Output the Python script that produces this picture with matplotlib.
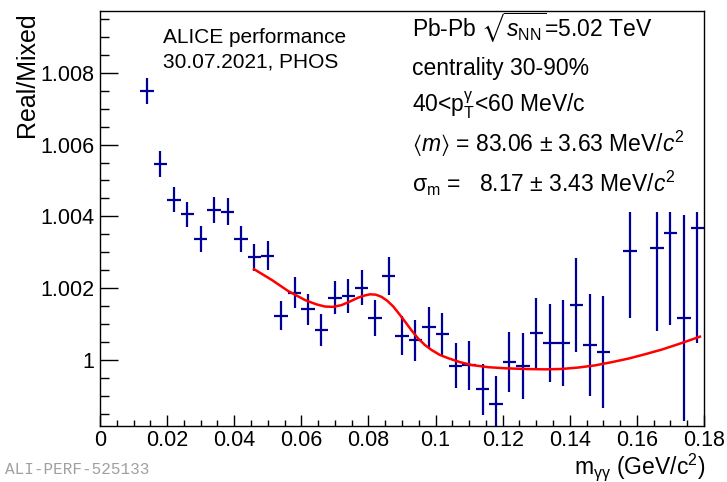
import matplotlib
matplotlib.use("Agg")
import matplotlib.pyplot as plt
from matplotlib.patches import Rectangle
from matplotlib.ticker import MultipleLocator, FuncFormatter

COLOR_DATA = "#000099"
COLOR_FIT = "#ff0000"
FONT = "Liberation Sans"

# Real/Mixed ratio, bins of 4 MeV (two bins missing)
mass = [0.014, 0.018, 0.022, 0.026, 0.030, 0.034, 0.038, 0.042, 0.046, 0.050,
        0.054, 0.058, 0.062, 0.066, 0.070, 0.074, 0.078, 0.082, 0.086, 0.090,
        0.094, 0.098, 0.102, 0.106, 0.110, 0.114, 0.118, 0.122, 0.126, 0.130,
        0.134, 0.138, 0.142, 0.146, 0.150, 0.158, 0.166, 0.170, 0.174, 0.178]
ratio = [1.00750, 1.00545, 1.00446, 1.00406, 1.00337, 1.00418, 1.00413, 1.00337, 1.00286, 1.00291,
         1.00123, 1.00188, 1.00141, 1.00084, 1.00174, 1.00179, 1.00201, 1.00118, 1.00234, 1.00068,
         1.00055, 1.00091, 1.00072, 0.99984, 0.99985, 0.99918, 0.99877, 0.99994, 0.99983, 1.00074,
         1.00047, 1.00047, 1.00153, 1.00042, 1.00023, 1.00304, 1.00313, 1.00353, 1.00116, 1.00369]
ratio_err = [0.00036, 0.00036, 0.00035, 0.00035, 0.00035, 0.00037, 0.00037, 0.00037, 0.00038, 0.00040,
             0.00040, 0.00043, 0.00043, 0.00044, 0.00045, 0.00048, 0.00049, 0.00050, 0.00052, 0.00054,
             0.00057, 0.00057, 0.00059, 0.00063, 0.00068, 0.00072, 0.00078, 0.00084, 0.00092, 0.00099,
             0.00109, 0.00120, 0.00130, 0.00142, 0.00156, 0.00187, 0.00231, 0.00256, 0.00287, 0.00323]
bin_half = 0.002

# fit curve
fit_mass = [0.0459, 0.0512, 0.0561, 0.0611, 0.0645, 0.0670, 0.0695, 0.0720, 0.0745, 0.0770,
            0.0790, 0.0805, 0.0822, 0.0839, 0.0856, 0.0874, 0.0891, 0.0909, 0.0928, 0.0948,
            0.0968, 0.0988, 0.1013, 0.1038, 0.1073, 0.1108, 0.1157, 0.1207, 0.1266, 0.1326,
            0.1375, 0.1425, 0.1475, 0.1525, 0.1575, 0.1624, 0.1674, 0.1723, 0.1788]
fit_ratio = [1.00253, 1.00223, 1.00192, 1.00167, 1.00155, 1.00149, 1.00148, 1.00153, 1.00163, 1.00174,
             1.00180, 1.00183, 1.00182, 1.00176, 1.00165, 1.00149, 1.00129, 1.00107, 1.00083, 1.00060,
             1.00042, 1.00028, 1.00014, 1.00005, 0.99994, 0.99986, 0.99980, 0.99977, 0.99975, 0.99974,
             0.99975, 0.99979, 0.99985, 0.99994, 1.00004, 1.00016, 1.00029, 1.00044, 1.00065]

plt.rcParams["font.family"] = [FONT, "DejaVu Sans"]
plt.rcParams["mathtext.fontset"] = "custom"
plt.rcParams["mathtext.rm"] = FONT
plt.rcParams["mathtext.it"] = FONT + ":italic"
plt.rcParams["mathtext.bf"] = FONT + ":bold"
plt.rcParams["mathtext.fallback"] = "stixsans"

W, H = 727, 482
fig = plt.figure(figsize=(W / 100, H / 100), dpi=100)
ax = fig.add_axes([100 / W, 1 - 426 / H, 604 / W, 415 / H])

ax.errorbar(mass, ratio, yerr=ratio_err, xerr=bin_half, fmt="none",
            ecolor=COLOR_DATA, elinewidth=1.6, capsize=0, zorder=2)
ax.plot(fit_mass, fit_ratio, color=COLOR_FIT, lw=1.8, zorder=3)

# white text pad that hides the top of the error bars
ax.add_patch(Rectangle((0.496, 0.516), 0.504, 0.484, transform=ax.transAxes,
                       facecolor="white", edgecolor="none", zorder=4))

ax.set_xlim(0, 0.18)
ax.set_ylim(0.998162, 1.009721)

ax.xaxis.set_major_locator(MultipleLocator(0.02))
ax.xaxis.set_minor_locator(MultipleLocator(0.005))
ax.yaxis.set_major_locator(MultipleLocator(0.002))
ax.yaxis.set_minor_locator(MultipleLocator(0.0005))
ax.xaxis.set_major_formatter(FuncFormatter(lambda v, p: "{:g}".format(round(v, 3))))
ax.yaxis.set_major_formatter(FuncFormatter(lambda v, p: "{:g}".format(round(v, 3))))

ax.tick_params(axis="both", which="both", direction="in", top=False, right=False,
               width=1.0, labelsize=15.5)
ax.tick_params(axis="y", which="major", length=13, pad=4)
ax.tick_params(axis="y", which="minor", length=6.5)
ax.tick_params(axis="x", which="major", length=8, pad=3)
ax.tick_params(axis="x", which="minor", length=4.5)
for s in ax.spines.values():
    s.set_linewidth(1.0)
    s.set_zorder(6)

def px(x, y):
    return x / W, 1 - y / H

fig.text(*px(27, 12), "Real/Mixed", rotation=90, ha="center", va="top", fontsize=18)
fig.text(*px(705, 474), "m$_{\\mathrm{\u03b3\u03b3}}$ (GeV/c$^{2}$)", ha="right",
         va="baseline", fontsize=16.5)
fig.text(*px(5, 474), "ALI-PERF-525133", ha="left", va="baseline", fontsize=11.5,
         color="#a0a0a0", family="Liberation Mono")

fig.text(*px(163, 43), "ALICE performance", ha="left", va="baseline", fontsize=15, zorder=5)
fig.text(*px(163, 68), "30.07.2021, PHOS", ha="left", va="baseline", fontsize=15, zorder=5)

info = ["Pb-Pb $\\sqrt{s_{\\mathrm{NN}}}$=5.02 TeV",
        "centrality 30-90%",
        "40<p$_{\\mathrm{T}}^{\\mathrm{\u03b3}}$<60 MeV/c",
        "$\\mathrm{\u27e8}m\\mathrm{\u27e9}$ = 83.06 \u00b1 3.63 MeV/$c^{2}$",
        "\u03c3$_{\\mathrm{m}}$ =   8.17 \u00b1 3.43 MeV/$c^{2}$"]
baselines = [37, 75, 112, 152, 192]
for t, b in zip(info, baselines):
    fig.text(*px(412, b), t, ha="left", va="baseline", fontsize=16.5, zorder=5)

fig.savefig("out.png", dpi=100, facecolor="white")
